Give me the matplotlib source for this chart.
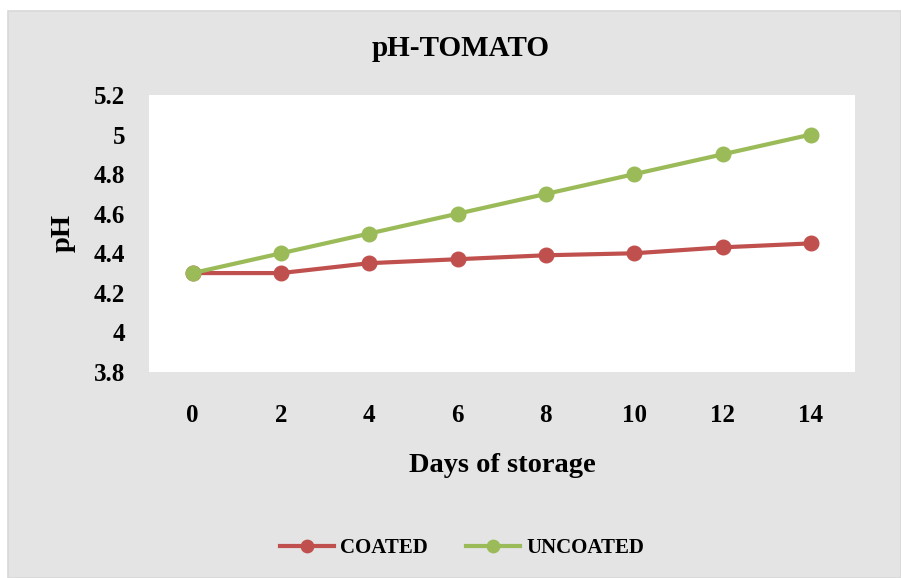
import matplotlib.pyplot as plt
from matplotlib.patches import Rectangle

days = ['0', '2', '4', '6', '8', '10', '12', '14']
coated = [4.30, 4.30, 4.35, 4.37, 4.39, 4.40, 4.43, 4.45]
uncoated = [4.30, 4.40, 4.50, 4.60, 4.70, 4.80, 4.90, 5.00]
yticks = [3.8, 4.0, 4.2, 4.4, 4.6, 4.8, 5.0, 5.2]
ytick_labels = ['3.8', '4', '4.2', '4.4', '4.6', '4.8', '5', '5.2']

plt.rcParams['font.family'] = ['Liberation Serif', 'DejaVu Serif']
plt.rcParams['font.weight'] = 'bold'

W, H = 901, 578
fig = plt.figure(figsize=(W / 100, H / 100), dpi=100, facecolor='white')

# grey chart area
fig.patches.append(Rectangle((8 / W, 0), 1 - 8 / W, 1 - 11 / H, transform=fig.transFigure,
                             facecolor='#e4e4e4', edgecolor='#d8d8d8', linewidth=1.2, zorder=-10))

ax = fig.add_axes([148.5 / W, 1 - 372 / H, (855 - 148.5) / W, (372 - 95) / H])
ax.set_facecolor('white')

x = range(len(days))
ax.plot(x, coated, color='#C0504D', linewidth=3, marker='o', markersize=10.5, label='COATED', zorder=3)
ax.plot(x, uncoated, color='#9BBB59', linewidth=3, marker='o', markersize=10.5, label='UNCOATED', zorder=4)

ax.set_xlim(-0.5, len(days) - 0.5)
ax.set_ylim(3.8, 5.2)
ax.set_xticks(list(x))
ax.set_xticklabels(days, fontsize=18, fontweight='bold')
ax.set_yticks(yticks)
ax.set_yticklabels(ytick_labels, fontsize=18, fontweight='bold')
ax.tick_params(length=0)
ax.tick_params(axis='y', pad=17)
ax.tick_params(axis='x', pad=23)
for s in ax.spines.values():
    s.set_visible(False)

fig.text(461 / W, 1 - 49 / H, 'pH-TOMATO', ha='center', va='center', fontsize=21, fontweight='bold')
fig.text(502 / W, 1 - 465 / H, 'Days of storage', ha='center', va='center', fontsize=20.5, fontweight='bold')
fig.text(63 / W, 1 - 233 / H, 'pH', ha='center', va='center', rotation=90, fontsize=20.5, fontweight='bold')

fig.legend(loc='center', bbox_to_anchor=(462 / W, 1 - 548 / H), ncol=2, frameon=False,
           prop={'size': 15, 'weight': 'bold'}, handlelength=2.6, columnspacing=1.8,
           handletextpad=0.3, markerscale=0.85)

fig.savefig('out.png', dpi=100, facecolor=fig.get_facecolor())
